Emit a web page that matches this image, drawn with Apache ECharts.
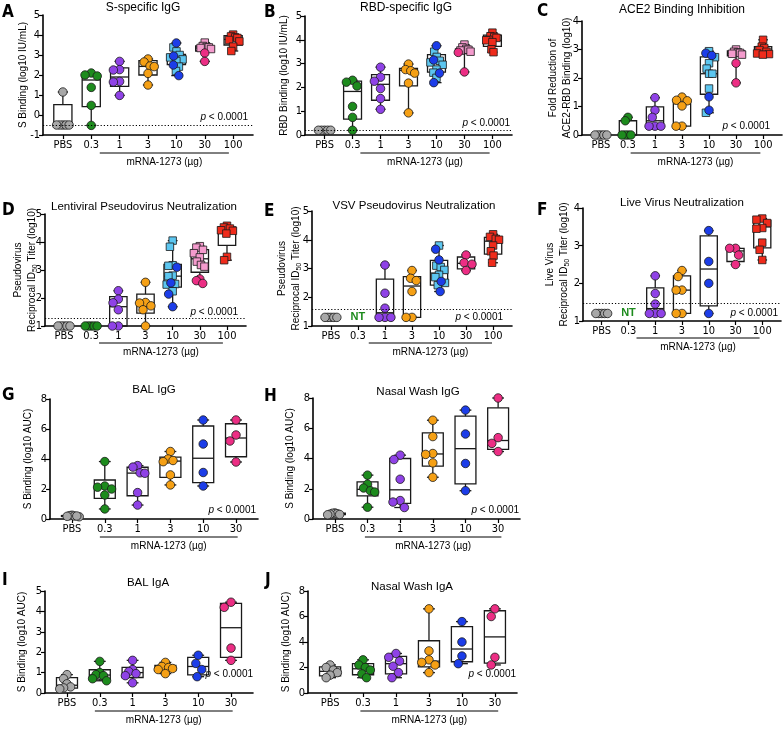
<!DOCTYPE html>
<html><head><meta charset="utf-8">
<script src="https://cdn.jsdelivr.net/npm/echarts@6/dist/echarts.min.js"></script>
<style>html,body{margin:0;padding:0;background:#fff}#c{width:783px;height:743px}</style>
</head><body><div id="c"></div>
<script>
// ---------------- categories ----------------
const CAT7 = ['PBS','0.3','1','3','10','30','100'];
const CAT6 = ['PBS','0.3','1','3','10','30'];

// ---------------- data ----------------
// Box stats per group: [min, Q1, median, Q3, max]
// A: S-specific IgG
const aCirc = [[1.15,-0.5,-0.5,-0.5,-0.5,-0.5],[2.1,2.0,1.95,1.38,0.48,-0.52],[2.68,2.27,2.25,1.68,1.65,0.98],[2.8,2.65,2.45,2.42,2.08,1.5],[3.6,2.95,2.5,1.97],[3.1,2.68],[]];
const aSq   = [[],[],[],[],[3.38,3.18,3.0,2.88,2.78,2.7,2.42,2.2],[3.62,3.45,3.4,3.38,3.35,3.3],[4.02,3.93,3.88,3.85,3.75,3.68,3.42,3.2]];
const aBox  = [[-0.5,-0.5,-0.5,0.52,1.15],[-0.52,0.42,1.75,2.03,2.1],[0.98,1.43,1.9,2.36,2.68],[1.5,2.0,2.43,2.72,2.8],[1.97,2.52,2.78,3.03,3.6],[2.68,3.2,3.35,3.45,3.62],[3.2,3.5,3.78,3.97,4.02]];
// B: RBD-specific IgG
const bCirc = [[0.2,0.2,0.2,0.2,0.2],[2.3,2.22,2.06,1.2,0.74,0.2],[2.85,2.43,2.26,1.95,1.53,1.08],[2.98,2.75,2.7,2.6,2.18,0.93],[3.75,3.15,2.6,2.2],[3.47,2.65],[]];
const bSq   = [[],[],[],[],[3.5,3.28,3.12,3.05,2.95,2.75,2.62,2.4],[3.8,3.68,3.62,3.58,3.55,3.5],[4.3,4.15,4.12,4.08,4.0,3.98,3.9,3.6,3.48]];
const bBox  = [[0.2,0.2,0.2,0.2,0.2],[0.2,0.67,1.83,2.26,2.3],[1.08,1.46,2.13,2.54,2.85],[0.93,2.06,2.72,2.8,2.98],[2.2,2.64,3.09,3.38,3.75],[2.65,3.42,3.52,3.62,3.8],[3.48,3.72,3.97,4.2,4.3]];
// C: ACE2 Binding Inhibition
const cCirc = [[0,0,0,0,0],[0.62,0.5,0,0,0,0],[1.31,0.87,0.62,0.31,0.31,0.31],[1.33,1.22,1.2,1.02,0.31,0.31],[2.87,2.79,1.34,0.87],[2.52,1.83],[]];
const cSq   = [[],[],[],[],[2.94,2.73,2.52,2.33,2.15,2.15,1.63,0.78],[3.0,2.92,2.9,2.88,2.85,2.82],[3.34,3.1,3.05,2.98,2.92,2.86,2.84,2.82]];
const cBox  = [[0,0,0,0,0],[0,0,0,0.5,0.62],[0.31,0.31,0.5,0.99,1.31],[0.31,0.31,1.1,1.24,1.33],[0.78,1.43,2.15,2.74,2.94],[1.83,2.78,2.87,2.95,3.0],[2.82,2.84,2.95,3.1,3.34]];
// D: Lentiviral pseudovirus neutralization
const dCirc = [[1,1,1,1,1],[1,1,1,1,1],[2.26,1.96,1.83,1.58,1.0,1.0],[2.56,1.84,1.82,1.72,1.58,1.0],[3.1,2.54,2.14,1.69],[2.68,2.62,2.52],[]];
const dSq   = [[],[],[],[],[4.05,3.83,3.17,3.15,2.8,2.78,2.5,2.48,2.24],[3.85,3.8,3.72,3.6,3.45,3.3,3.18,3.12],[4.58,4.52,4.48,4.42,4.4,4.3,3.47,3.35]];
const dBox  = [[1,1,1,1,1],[1,1,1,1,1],[1.0,1.0,1.69,2.05,2.26],[1.0,1.46,1.76,2.14,2.56],[1.69,2.39,2.78,3.2,4.05],[2.52,2.92,3.4,3.73,3.85],[3.35,3.88,4.4,4.54,4.58]];
// E: VSV pseudovirus neutralization (0.3 not tested)
const eCirc = [[1.3,1.3,1.3,1.3,1.3],[],[3.12,2.14,1.62,1.3,1.3,1.3],[2.93,2.66,2.58,2.2,1.3,1.3],[3.67,3.3,2.55,2.2],[3.47,3.2,3.15,2.93],[]];
const eSq   = [[],[],[],[],[3.8,3.1,3.05,2.95,2.78,2.7,2.5,2.42],[],[4.19,4.1,4.03,4.0,3.8,3.6,3.45,3.2]];
const eBox  = [[1.3,1.3,1.3,1.3,1.3],null,[1.3,1.3,1.46,2.63,3.12],[1.3,1.3,2.39,2.72,2.93],[2.2,2.42,2.84,3.28,3.8],[2.93,2.99,3.18,3.4,3.47],[3.2,3.5,3.95,4.08,4.19]];
// F: Live virus neutralization (0.3 not tested)
const fCirc = [[1.2,1.2,1.2,1.2,1.2],[],[2.2,1.73,1.45,1.2,1.2,1.2],[2.34,2.18,1.82,1.82,1.2,1.2],[3.4,2.58,2.0,1.2],[2.93,2.93,2.75,2.5],[]];
const fSq   = [[],[],[],[],[],[],[3.72,3.69,3.6,3.47,3.45,3.08,2.89,2.62]];
const fBox  = [[1.2,1.2,1.2,1.2,1.2],null,[1.2,1.2,1.33,1.88,2.2],[1.2,1.2,1.82,2.2,2.34],[1.2,1.4,2.38,3.26,3.4],[2.5,2.58,2.86,2.93,2.93],[2.62,2.94,3.5,3.67,3.72]];
// G: BAL IgG
const gCirc = [[0.25,0.22,0.2,0.18,0.15,0.2],[3.83,2.2,2.12,2.0,1.6,0.67],[3.56,3.46,3.08,3.05,1.76,0.93],[4.5,4.0,3.9,3.82,2.94,2.27],[6.6,5.0,3.1,2.2],[6.6,5.6,5.2,3.8]];
const gBox  = [[0.15,0.17,0.2,0.23,0.25],[0.67,1.37,2.06,2.6,3.83],[0.93,1.55,3.06,3.45,3.56],[2.27,2.77,3.86,4.12,4.5],[2.2,2.43,4.05,6.2,6.6],[3.8,4.15,5.4,6.35,6.6]];
// H: Nasal wash IgG
const hCirc = [[0.4,0.38,0.35,0.32,0.3,0.28],[2.9,2.3,2.05,1.87,1.78,0.78],[4.22,3.93,2.63,1.22,1.12,0.76],[6.53,5.45,4.33,4.27,3.71,2.76],[7.2,5.62,3.67,1.87],[8.0,5.38,5.0,4.46]];
const hBox  = [[0.28,0.29,0.34,0.38,0.4],[0.78,1.53,1.96,2.45,2.9],[0.76,1.03,1.93,4.0,4.22],[2.76,3.5,4.3,5.7,6.53],[1.87,2.32,4.65,6.8,7.2],[4.46,4.6,5.19,7.35,8.0]];
// I: BAL IgA
const iCirc = [[0.9,0.7,0.45,0.3,0.25,0.2],[1.55,1.0,0.9,0.85,0.7,0.6],[1.6,1.15,1.05,0.95,0.85,0.5],[1.5,1.3,1.25,1.2,1.15,0.95],[1.85,1.45,1.15,0.8],[4.45,4.2,2.2,1.6]];
const iBox  = [[0.2,0.24,0.38,0.75,0.9],[0.6,0.68,0.88,1.14,1.55],[0.5,0.76,1.0,1.26,1.6],[0.95,1.1,1.22,1.35,1.5],[0.8,0.89,1.3,1.75,1.85],[1.6,1.75,3.2,4.39,4.45]];
// J: Nasal wash IgA
const jCirc = [[2.2,2.0,1.8,1.6,1.4,1.2],[2.6,2.2,2.0,1.8,1.5,1.2],[3.1,2.8,2.5,2.1,1.6,1.2],[6.6,3.3,2.6,2.4,2.2,1.6],[5.6,4.0,2.9,2.3],[6.6,6.0,2.8,2.2]];
const jBox  = [[1.2,1.35,1.7,2.05,2.2],[1.2,1.43,1.9,2.3,2.6],[1.2,1.5,2.3,2.88,3.1],[1.6,2.05,2.5,4.1,6.6],[2.3,2.45,3.45,5.2,5.6],[2.2,2.35,4.4,6.45,6.6]];

// y-axis ranges [min, max, interval] and limit-of-detection lines
const yRanges = {A:[-1,5,1],B:[0,5,1],C:[0,4,1],D:[1,5,1],E:[1,5,1],F:[1,4,1],G:[0,8,2],H:[0,8,2],I:[0,5,1],J:[0,8,2]};
const lodLines = {A:-0.5,B:0.18,D:1.28,E:1.6,F:1.48};
const ntGroups = {E:[1,1.3],F:[1,1.2]};

const PANELS = [
 {id:'A',cats:CAT7,circ:aCirc,sq:aSq,box:aBox,title:'S-specific IgG',yname:'S Binding (log10 IU/mL)'},
 {id:'B',cats:CAT7,circ:bCirc,sq:bSq,box:bBox,title:'RBD-specific IgG',yname:'RBD Binding (log10 IU/mL)'},
 {id:'C',cats:CAT7,circ:cCirc,sq:cSq,box:cBox,title:'ACE2 Binding Inhibition',yname:'Fold Reduction of\nACE2-RBD Binding (log10)'},
 {id:'D',cats:CAT7,circ:dCirc,sq:dSq,box:dBox,title:'Lentiviral Pseudovirus Neutralization',yname:'Pseudovirus\nReciprocal ID{s|50} Titer (log10)'},
 {id:'E',cats:CAT7,circ:eCirc,sq:eSq,box:eBox,title:'VSV Pseudovirus Neutralization',yname:'Pseudovirus\nReciprocal ID{s|50} Titer (log10)'},
 {id:'F',cats:CAT7,circ:fCirc,sq:fSq,box:fBox,title:'Live Virus Neutralization',yname:'Live Virus\nReciprocal ID{s|50} Titer (log10)'},
 {id:'G',cats:CAT6,circ:gCirc,sq:[],box:gBox,title:'BAL IgG',yname:'S Binding (log10 AUC)'},
 {id:'H',cats:CAT6,circ:hCirc,sq:[],box:hBox,title:'Nasal Wash IgG',yname:'S Binding (log10 AUC)'},
 {id:'I',cats:CAT6,circ:iCirc,sq:[],box:iBox,title:'BAL IgA',yname:'S Binding (log10 AUC)'},
 {id:'J',cats:CAT6,circ:jCirc,sq:[],box:jBox,title:'Nasal Wash IgA',yname:'S Binding (log10 AUC)'}
];

// ---------------- layout (pixels) ----------------
const GEOM = {
 A:{l:43,t:15,w:210,h:120,title:[143,8,12],letter:[2,13],yname:23,p:[248,117],under:[1.3,5.85],uy:153},
 B:{l:305,t:16,w:207,h:119,title:[406,8,12],letter:[264,13],yname:284,p:[510,123],under:[1.28,5.9],uy:153},
 C:{l:582,t:21,w:200,h:114,title:[682,10,12],letter:[537,12],yname:560,p:[770,126],under:[1.1,5.9],uy:153},
 D:{l:45,t:214,w:201,h:112,title:[144,207,11.5],letter:[2,211],yname:25,p:[238,312],under:[1.29,5.85],uy:343},
 E:{l:312,t:211,w:200,h:115,title:[414,206,11.5],letter:[264,212],yname:289,p:[503,317],under:[1.4,5.96],uy:343},
 F:{l:583,t:208,w:198,h:113,title:[682,203,11.5],letter:[537,211],yname:557,p:[778,313],under:[1.3,5.9],uy:338},
 G:{l:50,t:399,w:208,h:120,title:[154,390,11.5],letter:[2,396],yname:28,p:[256,510],under:[0.85,5.05],uy:537},
 H:{l:313,t:398,w:207,h:121,title:[418,392,11.5],letter:[264,397],yname:290,p:[519,510],under:[0.92,5.1],uy:537},
 I:{l:45,t:591,w:208,h:102,title:[148,583,11.5],letter:[2,581],yname:22,p:[253,674],under:[0.85,5.05],uy:711},
 J:{l:308,t:591,w:209,h:102,title:[412,587,11.5],letter:[265,581],yname:286,p:[516,674],under:[0.92,5.1],uy:711}
};

// ---------------- styles ----------------
const FONT = '"Liberation Sans", Arial, Helvetica, sans-serif';
const NARROW = '"Liberation Sans Narrow", "Arial Narrow", "DejaVu Sans Condensed", sans-serif';
const CIRC_COL = ['#a8a8a8','#1d8b1d','#8f42e6','#f5a015','#1c3de8','#ec2e84','#ef2b1b'];
const SQ_COL   = ['#a8a8a8','#1d8b1d','#8f42e6','#f5a015','#5cc6f0','#f49bcd','#ef2b1b'];
const INK = '#1a1a1a';

function swarm(ys, d, maxHalf){
  const order = ys.map((y,i)=>i).sort((a,b)=>ys[b]-ys[a]);
  const placed=[]; const out=new Array(ys.length).fill(0);
  order.forEach(i=>{
    const y=ys[i]; const cands=[0];
    placed.forEach(p=>{const dy=Math.abs(p.y-y); if(dy<d){const dx=Math.sqrt(d*d-dy*dy); cands.push(p.x+dx,p.x-dx);}});
    cands.sort((a,b)=>(Math.abs(a)-Math.abs(b))||(a-b));
    let x=0;
    for(const c of cands){ if(placed.every(p=>(p.x-c)*(p.x-c)+(p.y-y)*(p.y-y)>=d*d-0.01)){x=c;break;} }
    placed.push({x,y}); out[i]=x;
  });
  const m=Math.max(0,...out.map(Math.abs));
  const s=m>maxHalf?maxHalf/m:1;
  return out.map(x=>x*s);
}

const grids=[], xAxes=[], yAxes=[], series=[], gfx=[];
PANELS.forEach((P,k)=>{
  const G=GEOM[P.id], yr=yRanges[P.id], n=P.cats.length;
  const pad = n===7?0.7:0.67;
  const xr=[-pad, n-1+pad];
  const pxX=G.w/(xr[1]-xr[0]), pxY=G.h/(yr[1]-yr[0]);
  const big = n===6;
  grids.push({left:G.l,top:G.t,width:G.w,height:G.h});
  const idx=P.cats.map((c,i)=>i);
  xAxes.push({type:'value',gridIndex:k,min:xr[0],max:xr[1],
    axisLine:{show:true,onZero:false,lineStyle:{color:'#000',width:1.6}},
    axisTick:{show:true,customValues:idx,length:4,lineStyle:{color:'#000',width:1.2}},
    axisLabel:{show:true,customValues:idx,formatter:v=>P.cats[Math.round(v)],fontSize:11,fontFamily:NARROW,color:'#000',margin:5},
    splitLine:{show:false}});
  yAxes.push({type:'value',gridIndex:k,min:yr[0],max:yr[1],interval:yr[2],
    axisLine:{show:true,onZero:false,lineStyle:{color:'#000',width:1.6}},
    axisTick:{show:true,length:4,lineStyle:{color:'#000',width:1.2}},
    axisLabel:{fontSize:11,fontFamily:NARROW,color:'#000',margin:3},
    splitLine:{show:false}});

  // boxes
  const boxData=[];
  P.box.forEach((b,i)=>{ if(b) boxData.push([i,b[0],b[1],b[2],b[3],b[4]]); });
  series.push({type:'custom',xAxisIndex:k,yAxisIndex:k,z:2,silent:true,animation:false,
    data:boxData,encode:{x:0,y:[1,2,3,4,5]},
    renderItem:(params,api)=>{
      const x=api.value(0);
      const c=j=>api.coord([x,api.value(j)]);
      const pMin=c(1),pQ1=c(2),pMed=c(3),pQ3=c(4),pMax=c(5);
      const unit=api.size([1,0])[0];
      const bw=unit*0.64, cw=unit*0.36, cx=pMin[0];
      const st={stroke:INK,lineWidth:1.3,fill:null};
      return {type:'group',children:[
        {type:'line',shape:{x1:cx,y1:pMax[1],x2:cx,y2:pQ3[1]},style:st},
        {type:'line',shape:{x1:cx,y1:pQ1[1],x2:cx,y2:pMin[1]},style:st},
        {type:'line',shape:{x1:cx-cw/2,y1:pMax[1],x2:cx+cw/2,y2:pMax[1]},style:st},
        {type:'line',shape:{x1:cx-cw/2,y1:pMin[1],x2:cx+cw/2,y2:pMin[1]},style:st},
        {type:'rect',shape:{x:cx-bw/2,y:pQ3[1],width:bw,height:pQ1[1]-pQ3[1]},style:{stroke:INK,lineWidth:1.3,fill:'rgba(255,255,255,0)'}},
        {type:'line',shape:{x1:cx-bw/2,y1:pMed[1],x2:cx+bw/2,y2:pMed[1]},style:st}
      ]};
    }});

  // points
  const sqData=[], ciData=[];
  P.cats.forEach((c,i)=>{
    const pts=[];
    ((P.sq&&P.sq[i])||[]).forEach(v=>pts.push({v,kind:'sq'}));
    ((P.circ&&P.circ[i])||[]).forEach(v=>pts.push({v,kind:'ci'}));
    if(!pts.length) return;
    const offs=swarm(pts.map(p=>p.v*pxY), big?8.5:8, 0.22*pxX);
    pts.forEach((p,j)=>{
      const item={value:[i+offs[j]/pxX,p.v],itemStyle:{color:p.kind==='sq'?SQ_COL[i]:CIRC_COL[i]}};
      (p.kind==='sq'?sqData:ciData).push(item);
    });
  });
  series.push({type:'scatter',xAxisIndex:k,yAxisIndex:k,z:3,silent:true,animation:false,symbol:'rect',symbolSize:7.5,
    itemStyle:{borderColor:INK,borderWidth:0.8,opacity:1},data:sqData});
  const ci={type:'scatter',xAxisIndex:k,yAxisIndex:k,z:4,silent:true,animation:false,symbol:'circle',symbolSize:8.5,
    itemStyle:{borderColor:INK,borderWidth:0.8,opacity:1},data:ciData};
  if(lodLines[P.id]!==undefined){
    ci.markLine={silent:true,animation:false,symbol:['none','none'],label:{show:false},
      lineStyle:{color:'#000',type:[1.2,2],width:1},emphasis:{disabled:true},data:[{yAxis:lodLines[P.id]}]};
  }
  series.push(ci);

  // decorations
  const px=x=>G.l+(x-xr[0])*pxX;
  gfx.push({type:'text',x:G.letter[0],y:G.letter[1],style:{text:P.id,fontSize:17,fontWeight:'bold',fontFamily:NARROW,fill:'#000',align:'left',textAlign:'left',verticalAlign:'middle',textVerticalAlign:'middle'}});
  gfx.push({type:'text',x:G.title[0],y:G.title[1],style:{text:P.title,fontSize:G.title[2],fontFamily:FONT,fill:'#000',align:'center',textAlign:'center',verticalAlign:'middle',textVerticalAlign:'middle'}});
  gfx.push({type:'text',x:G.yname,y:G.t+G.h/2,rotation:Math.PI/2,style:{text:P.yname,fontSize:10,fontFamily:FONT,fill:'#000',lineHeight:14,
    align:'center',textAlign:'center',verticalAlign:'middle',textVerticalAlign:'middle',
    rich:{s:{fontSize:7,fontFamily:FONT,fill:'#000',verticalAlign:'bottom',lineHeight:14}}}});
  gfx.push({type:'line',shape:{x1:px(G.under[0]),y1:G.uy,x2:px(G.under[1]),y2:G.uy},style:{stroke:'#000',lineWidth:1}});
  gfx.push({type:'text',x:(px(G.under[0])+px(G.under[1]))/2,y:G.uy+9,style:{text:'mRNA-1273 (µg)',fontSize:10,fontFamily:FONT,fill:'#000',align:'center',textAlign:'center',verticalAlign:'middle',textVerticalAlign:'middle'}});
  gfx.push({type:'text',x:G.p[0],y:G.p[1],style:{text:'{i|p} < 0.0001',fontSize:10,fontFamily:FONT,fill:'#000',align:'right',textAlign:'right',verticalAlign:'middle',textVerticalAlign:'middle',
    rich:{i:{fontStyle:'italic',fontSize:10,fontFamily:FONT,fill:'#000'}}}});
  if(ntGroups[P.id]){
    const nt=ntGroups[P.id];
    gfx.push({type:'text',x:px(nt[0]),y:G.t+G.h-(nt[1]-yr[0])*pxY,style:{text:'NT',fontSize:11,fontWeight:'bold',fontFamily:FONT,fill:'#1d8b1d',align:'center',textAlign:'center',verticalAlign:'middle',textVerticalAlign:'middle'}});
  }
});

const chart=echarts.init(document.getElementById('c'),null,{renderer:'canvas'});
chart.setOption({animation:false,backgroundColor:'#fff',grid:grids,xAxis:xAxes,yAxis:yAxes,series:series,graphic:{elements:gfx}});
</script></body></html>
